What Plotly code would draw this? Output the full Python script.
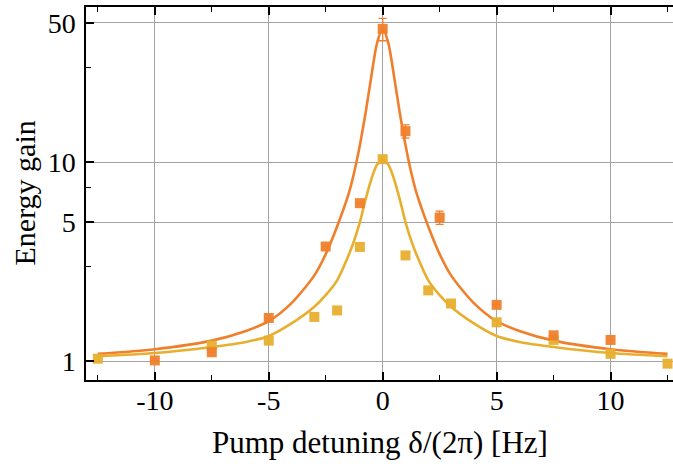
import plotly.graph_objects as go

# ---- data ----
orange_x = [-10, -7.5, -5, -2.5, -1, 0, 1, 2.5, 5, 7.5, 10]
orange_y = [1.01, 1.11, 1.65, 3.77, 6.22, 46.7, 14.3, 5.27, 1.92, 1.35, 1.28]
orange_err = [0, 0, 0, 0, 0, 6.0, 1.1, 0.4, 0, 0, 0]

yellow_x = [-12.5, -7.5, -5, -3, -2, -1, 0, 1, 2, 3, 5, 7.5, 10, 12.5]
yellow_y = [1.03, 1.20, 1.27, 1.67, 1.80, 3.75, 10.35, 3.40, 2.27, 1.95, 1.57, 1.28, 1.09, 0.973]

fit_x = [-12.5, -10, -7.5, -6, -5, -4, -3, -2.5, -2, -1.5, -1.25, -1, -0.75, -0.5, -0.25,
         0, 0.25, 0.5, 0.75, 1, 1.25, 1.5, 2, 2.5, 3, 4, 5, 6, 7.5, 10, 12.5]
fit_orange = [1.09, 1.15, 1.27, 1.42, 1.59, 1.96, 2.7, 3.45, 4.75, 6.9, 8.9, 12.2, 17.7, 26.9, 39.5,
              47.0, 39.5, 26.9, 17.7, 12.2, 8.9, 6.9, 4.75, 3.45, 2.7, 1.96, 1.59, 1.42, 1.27, 1.15, 1.09]
fit_yellow = [1.06, 1.10, 1.18, 1.25, 1.34, 1.55, 1.88, 2.15, 2.55, 3.4, 4.05, 5.0, 6.5, 8.2, 9.7,
              10.3, 9.7, 8.2, 6.5, 5.0, 4.05, 3.4, 2.55, 2.15, 1.88, 1.55, 1.34, 1.25, 1.18, 1.10, 1.06]

x_ticks = [-10, -5, 0, 5, 10]
x_ticktext = ["-10", "-5", "0", "5", "10"]
x_minor = [-12.5, -7.5, -2.5, 2.5, 7.5, 12.5]
y_ticks = [1, 5, 10, 50]
y_ticktext = ["1", "5", "10", "50"]
y_minor = [3, 7.5, 30]

ORANGE = "#F07F2B"
YELLOW = "#E8AF2E"
FONT = "Liberation Serif"

fig = go.Figure()
fig.add_trace(go.Scatter(x=fit_x, y=fit_orange, mode="lines",
                         line=dict(color=ORANGE, width=2.6, shape="spline", smoothing=0.8),
                         hoverinfo="skip"))
fig.add_trace(go.Scatter(x=fit_x, y=fit_yellow, mode="lines",
                         line=dict(color=YELLOW, width=2.6, shape="spline", smoothing=0.8),
                         hoverinfo="skip"))
fig.add_trace(go.Scatter(x=yellow_x, y=yellow_y, mode="markers",
                         marker=dict(symbol="square", size=10, color=YELLOW, opacity=0.95,
                                     line=dict(width=0))))
fig.add_trace(go.Scatter(x=orange_x, y=orange_y, mode="markers",
                         marker=dict(symbol="square", size=10, color=ORANGE, opacity=0.95,
                                     line=dict(width=0)),
                         error_y=dict(type="data", array=orange_err, visible=True,
                                      color=ORANGE, thickness=1.3, width=4)))

fig.update_layout(
    width=673, height=466,
    margin=dict(l=86, r=0, t=7, b=86),
    paper_bgcolor="white", plot_bgcolor="white",
    showlegend=False,
    font=dict(family=FONT, size=28, color="black"),
    xaxis=dict(range=[-13.02, 12.74], tickmode="array", tickvals=x_ticks, ticktext=x_ticktext,
               ticks="inside", ticklen=8, tickwidth=1.5, tickcolor="black",
               showline=True, linecolor="black", linewidth=1.5, mirror="ticks",
               showgrid=True, gridcolor="#a3a3a3", gridwidth=1, zeroline=False,
               minor=dict(tickvals=x_minor, ticks="inside", ticklen=5, tickwidth=1.2,
                          tickcolor="black", showgrid=False),
               tickfont=dict(size=28), ticklabelstandoff=-5),
    yaxis=dict(type="log", range=[-0.094, 1.779], tickmode="array", tickvals=y_ticks,
               ticktext=y_ticktext,
               ticks="inside", ticklen=8, tickwidth=1.5, tickcolor="black",
               showline=True, linecolor="black", linewidth=1.5, mirror=False,
               showgrid=True, gridcolor="#a3a3a3", gridwidth=1, zeroline=False,
               minor=dict(tickvals=y_minor, ticks="inside", ticklen=5, tickwidth=1.2,
                          tickcolor="black", showgrid=False),
               tickfont=dict(size=28), ticklabelstandoff=3),
    annotations=[
        dict(text="Pump detuning δ/(2π) [Hz]", xref="paper", yref="paper", x=0.5, y=0,
             xanchor="center", yanchor="middle", yshift=-62, showarrow=False,
             font=dict(family=FONT, size=31, color="black")),
        dict(text="Energy gain", xref="paper", yref="paper", x=0, y=0.5,
             xanchor="center", yanchor="middle", xshift=-62, textangle=-90, showarrow=False,
             font=dict(family=FONT, size=30, color="black")),
    ],
)

fig.write_html("out.html", config={"displayModeBar": False},
               post_script="document.body.style.margin='0';document.body.style.overflow='hidden';")
